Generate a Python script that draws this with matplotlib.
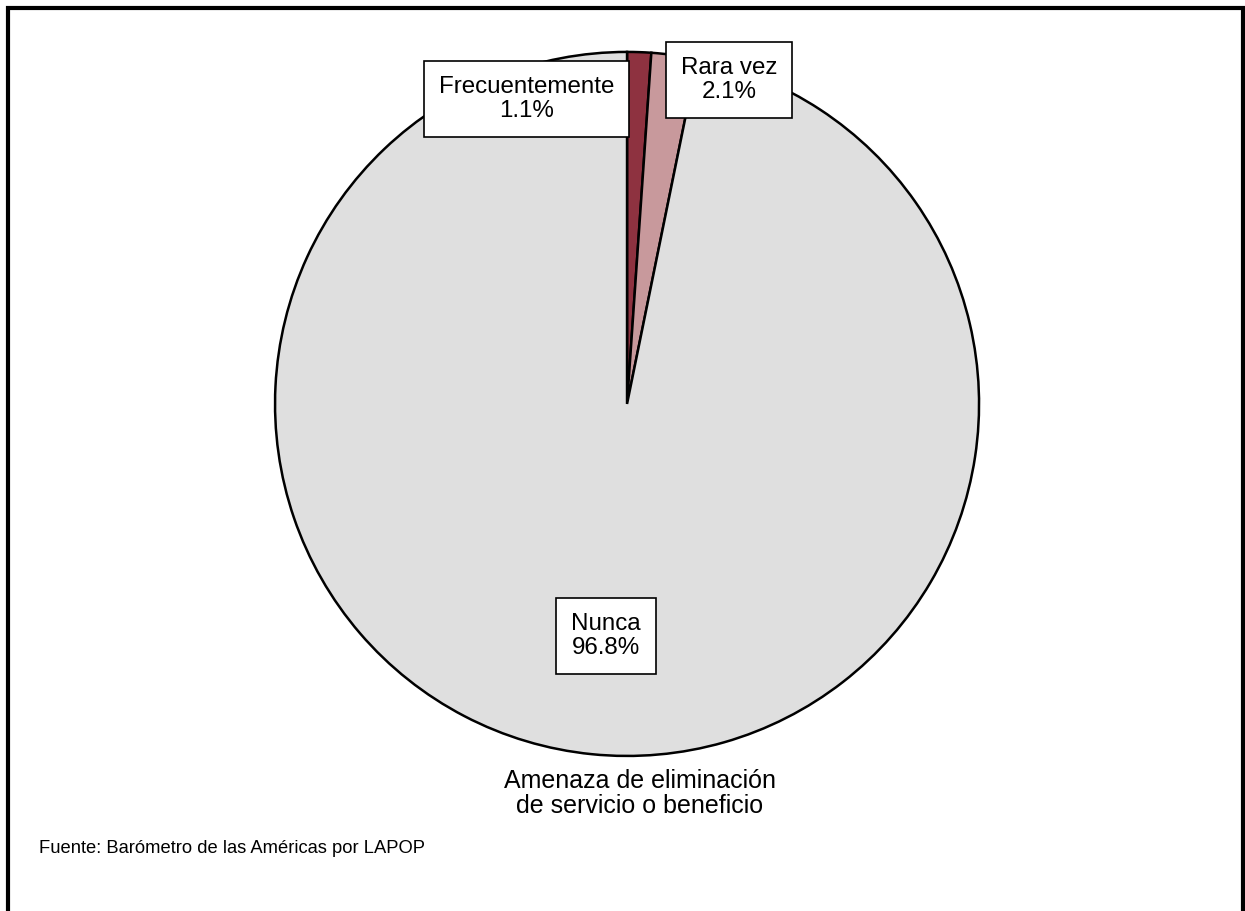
import matplotlib.pyplot as plt
from matplotlib.patches import Rectangle

plt.rcParams['font.family'] = ['Liberation Sans', 'DejaVu Sans']

# Datos
categorias = ['Frecuentemente', 'Rara vez', 'Nunca']
porcentajes = [1.1, 2.1, 96.8]
colores = ['#8E3240', '#C8999C', '#DFDFDF']
# posición de cada etiqueta (coordenadas de datos, radio 1)
pos_etiquetas = [(-0.285, 0.865), (0.29, 0.92), (-0.06, -0.66)]

fig = plt.figure(figsize=(12.45, 9.11), dpi=100)
ax = fig.add_axes([0.2209, 0.1702, 0.5655, 0.7728])

wedges, _ = ax.pie(porcentajes, colors=colores, startangle=90, counterclock=False,
                   radius=1.0, wedgeprops=dict(edgecolor='black', linewidth=1.8))
ax.set_xlim(-1.0, 1.0)
ax.set_ylim(-1.0, 1.0)
ax.set_aspect('equal')

for cat, val, (x, y) in zip(categorias, porcentajes, pos_etiquetas):
    ax.text(x, y, f'{cat}\n{val:.1f}%', ha='center', va='center', fontsize=17.4,
            linespacing=1.12,
            bbox=dict(boxstyle='square,pad=0.62', facecolor='white', edgecolor='black', linewidth=1.2))

fig.text(0.514, 0.1285, 'Amenaza de eliminación\nde servicio o beneficio',
         ha='center', va='center', fontsize=18, linespacing=1.05)
fig.text(0.031, 0.069, 'Fuente: Barómetro de las Américas por LAPOP',
         ha='left', va='center', fontsize=13.2)

# marco exterior
fig.patches.append(Rectangle((7.5 / 1245, -0.05), (1243 - 7.5) / 1245, (911 - 8.5) / 911 + 0.05,
                             transform=fig.transFigure, fill=False, edgecolor='black', linewidth=3))

fig.savefig('out.png', dpi=100)
